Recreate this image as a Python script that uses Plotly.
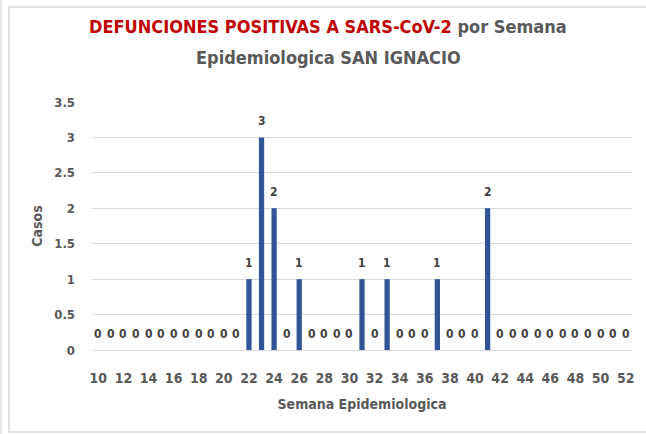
import plotly.graph_objects as go

# Semanas epidemiológicas 10–52 y defunciones por semana
semanas = list(range(10, 53))
defunciones_por_semana = {22: 1, 23: 3, 24: 2, 26: 1, 31: 1, 33: 1, 37: 1, 41: 2}
casos = [defunciones_por_semana.get(s, 0) for s in semanas]

y_ticks = [0, 0.5, 1, 1.5, 2, 2.5, 3, 3.5]
x_ticks = list(range(10, 53, 2))

W, H = 646, 434
L, R, T, B = 92, 14, 102, 84

FONT = "DejaVu Sans Condensed, Liberation Sans, sans-serif"
GRAY = "#595959"

fig = go.Figure()
fig.add_trace(go.Bar(
    x=semanas, y=casos, width=0.42,
    marker=dict(color="#2F5597", line=dict(width=0)),
    hoverinfo="x+y", showlegend=False,
))

pw = W - L - R
ph = H - T - B

annotations = []
# etiquetas de datos sobre cada barra
for s, v in zip(semanas, casos):
    annotations.append(dict(
        x=s, y=v, xref="x", yref="y", text=str(v), showarrow=False,
        yanchor="middle", yshift=16,
        font=dict(family=FONT, size=12, color="#404040", weight="bold"),
    ))

# título en dos líneas
title_x = (328 - L) / pw
annotations.append(dict(
    x=title_x, y=1 + (T - 27) / ph, xref="paper", yref="paper",
    xanchor="center", yanchor="middle", showarrow=False,
    text="<span style='color:#C00000'>DEFUNCIONES POSITIVAS A SARS-CoV-2</span> por Semana",
    font=dict(family=FONT, size=18, color=GRAY, weight="bold"),
))
annotations.append(dict(
    x=title_x, y=1 + (T - 57) / ph, xref="paper", yref="paper",
    xanchor="center", yanchor="middle", showarrow=False,
    text="Epidemiologica SAN IGNACIO",
    font=dict(family=FONT, size=18, color=GRAY, weight="bold"),
))

fig.update_layout(
    width=W, height=H,
    margin=dict(l=L, r=R, t=T, b=B),
    paper_bgcolor="white", plot_bgcolor="white",
    font=dict(family=FONT, color=GRAY),
    annotations=annotations,
    xaxis=dict(
        range=[9.5, 52.5], tickmode="array", tickvals=x_ticks,
        ticktext=[str(t) for t in x_ticks],
        showgrid=False, zeroline=False, showline=False, ticks="",
        ticklabelstandoff=18,
        tickfont=dict(family=FONT, size=14, color=GRAY, weight="bold"),
        title=dict(text="Semana Epidemiologica", standoff=14,
                   font=dict(family=FONT, size=14, color=GRAY, weight="bold")),
    ),
    yaxis=dict(
        range=[0, 3.5], tickmode="array", tickvals=y_ticks,
        ticktext=["0", "0.5", "1", "1.5", "2", "2.5", "3", "3.5"],
        showgrid=True, gridcolor="#D9D9D9", gridwidth=1,
        zeroline=True, zerolinecolor="#D9D9D9", zerolinewidth=1,
        ticks="", ticklabelstandoff=16,
        tickfont=dict(family=FONT, size=13, color=GRAY, weight="bold"),
        title=dict(text="Casos", standoff=8,
                   font=dict(family=FONT, size=14, color=GRAY, weight="bold")),
    ),
    shapes=[
        # marco del gráfico (abierto a la derecha)
        dict(type="path", xref="paper", yref="paper",
             path=(f"M {(W + 5 - L) / pw},{1 + (T - 7) / ph} "
                   f"L {(9 - L) / pw},{1 + (T - 7) / ph} "
                   f"L {(9 - L) / pw},{-(432 - T - ph) / ph} "
                   f"L {(W + 5 - L) / pw},{-(432 - T - ph) / ph}"),
             line=dict(color="#D9D9D9", width=1.5), layer="below"),
        dict(type="line", xref="paper", yref="paper",
             x0=(1 - L) / pw, x1=(1 - L) / pw,
             y0=-(H + 5 - T - ph) / ph, y1=1 + (T + 5) / ph,
             line=dict(color="#E0E0E0", width=1.5), layer="below"),
    ],
)

fig.write_html("out.html")
